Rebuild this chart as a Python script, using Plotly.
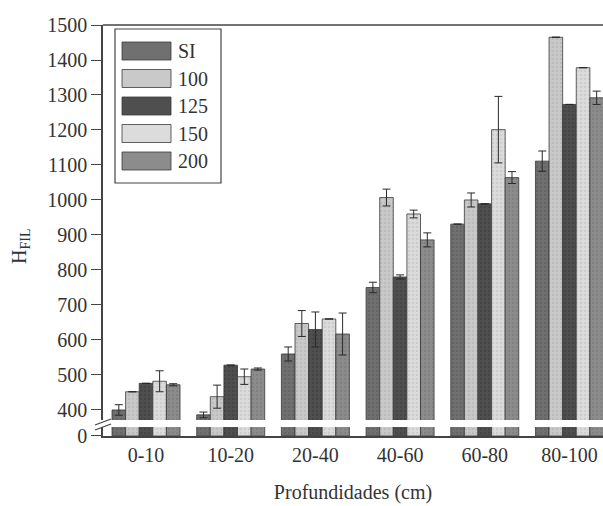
import plotly.graph_objects as go

categories = ["0-10", "10-20", "20-40", "40-60", "60-80", "80-100"]
series_names = ["SI", "100", "125", "150", "200"]

si_vals = [400, 386, 560, 750, 931, 1111]
d100_vals = [452, 438, 647, 1007, 1000, 1465]
d125_vals = [476, 528, 630, 780, 989, 1273]
d150_vals = [482, 495, 660, 960, 1201, 1378]
d200_vals = [472, 517, 617, 886, 1064, 1292]

si_err = [15, 8, 20, 15, 0, 29]
d100_err = [0, 33, 37, 24, 20, 0]
d125_err = [0, 0, 50, 6, 0, 0]
d150_err = [30, 22, 0, 11, 95, 0]
d200_err = [3, 3, 60, 20, 17, 19]

y_ticks_upper = [400, 500, 600, 700, 800, 900, 1000, 1100, 1200, 1300, 1400, 1500]

values = [si_vals, d100_vals, d125_vals, d150_vals, d200_vals]
errors = [si_err, d100_err, d125_err, d150_err, d200_err]
colors = ["#707070", "#c9c9c9", "#4f4f4f", "#dcdcdc", "#8c8c8c"]
dots = ["#5a5a5a", "#b0b0b0", "#3c3c3c", "#bdbdbd", "#767676"]

FONT = "Liberation Serif, Times New Roman, serif"
INK = "#333333"
AX = "#444444"

W, H = 603, 506
ML, MT, MB, MR = 103, 25, 70, 0
PW, PH = W - ML - MR, H - MT - MB


def px_x(px):  # window pixel -> paper x
    return (px - ML) / PW


def px_y(py):  # window pixel -> paper y
    return (H - MB - py) / PH


fig = go.Figure()
x_idx = list(range(len(categories)))

for name, vals, errs, col, dc in zip(series_names, values, errors, colors, dots):
    marker = dict(color=col, line=dict(color="#3a3a3a", width=0.8),
                  pattern=dict(shape=".", fgcolor=dc, size=4, solidity=0.35))
    fig.add_trace(go.Bar(
        x=x_idx, y=vals, name=name, marker=marker, offsetgroup=name,
        legendgroup=name, showlegend=False, xaxis="x", yaxis="y2",
        error_y=dict(type="data", array=errs, color="#2a2a2a", thickness=1, width=4),
    ))
    fig.add_trace(go.Bar(
        x=x_idx, y=vals, name=name, marker=marker, offsetgroup=name,
        legendgroup=name, showlegend=False, xaxis="x", yaxis="y",
    ))

shapes = [
    dict(type="line", xref="paper", yref="paper", x0=0, x1=1, y0=1, y1=1,
         line=dict(color=AX, width=1.5)),
    dict(type="line", xref="paper", yref="paper", x0=px_x(95), x1=px_x(111),
         y0=px_y(430), y1=px_y(424), line=dict(color=AX, width=1.3)),
    dict(type="line", xref="paper", yref="paper", x0=px_x(95), x1=px_x(111),
         y0=px_y(425), y1=px_y(419), line=dict(color=AX, width=1.3)),
    # legend box
    dict(type="rect", xref="paper", yref="paper", x0=px_x(115), x1=px_x(221),
         y0=px_y(183), y1=px_y(29), line=dict(color=AX, width=1.2), fillcolor="white"),
]
annotations = []
row_centers = [51, 78.5, 106, 133.5, 161]
for name, col, dc, rc in zip(series_names, colors, dots, row_centers):
    shapes.append(dict(type="rect", xref="paper", yref="paper",
                       x0=px_x(122), x1=px_x(171), y0=px_y(rc + 9), y1=px_y(rc - 9),
                       line=dict(color="#3a3a3a", width=0.8), fillcolor=col))
    annotations.append(dict(xref="paper", yref="paper", x=px_x(176), y=px_y(rc),
                            xanchor="left", yanchor="middle", showarrow=False,
                            text=name, font=dict(size=20, family=FONT, color=INK)))

annotations.append(dict(xref="paper", yref="paper", x=px_x(20), y=px_y(247),
                        xanchor="center", yanchor="middle", showarrow=False, textangle=-90,
                        text="H<sub>FIL</sub>", font=dict(size=20, family=FONT, color=INK)))

fig.update_layout(
    width=W, height=H,
    margin=dict(l=ML, r=MR, t=MT, b=MB, pad=0),
    paper_bgcolor="white", plot_bgcolor="white",
    barmode="group", bargap=0.197, bargroupgap=0,
    font=dict(family=FONT, size=20, color=INK),
    showlegend=False,
    xaxis=dict(range=[-0.508, 5.396], tickmode="array", tickvals=x_idx,
               ticktext=categories, showline=True, linecolor=AX, linewidth=1.5,
               ticks="", showgrid=False, zeroline=False, anchor="y",
               tickfont=dict(size=20, family=FONT, color=INK),
               title=dict(text="Profundidades (cm)", font=dict(size=20, family=FONT, color=INK),
                          standoff=20)),
    yaxis=dict(domain=[0, 0.022], range=[0, 25], tickvals=[0], ticktext=["0"],
               showline=True, linecolor=AX, linewidth=1.5, ticks="outside",
               ticklen=10, tickcolor=AX, showgrid=False, zeroline=False,
               tickfont=dict(size=20, family=FONT, color=INK)),
    yaxis2=dict(domain=[0.039, 1], range=[371.4, 1500], tickvals=y_ticks_upper,
                showline=True, linecolor=AX, linewidth=1.5, ticks="outside",
                ticklen=10, tickcolor=AX, showgrid=False, zeroline=False,
                anchor="x", tickfont=dict(size=20, family=FONT, color=INK)),
    shapes=shapes,
    annotations=annotations,
)

fig.write_html(
    "out.html",
    config={"displayModeBar": False},
    post_script="document.body.style.margin='0';document.body.style.overflow='hidden';",
)
